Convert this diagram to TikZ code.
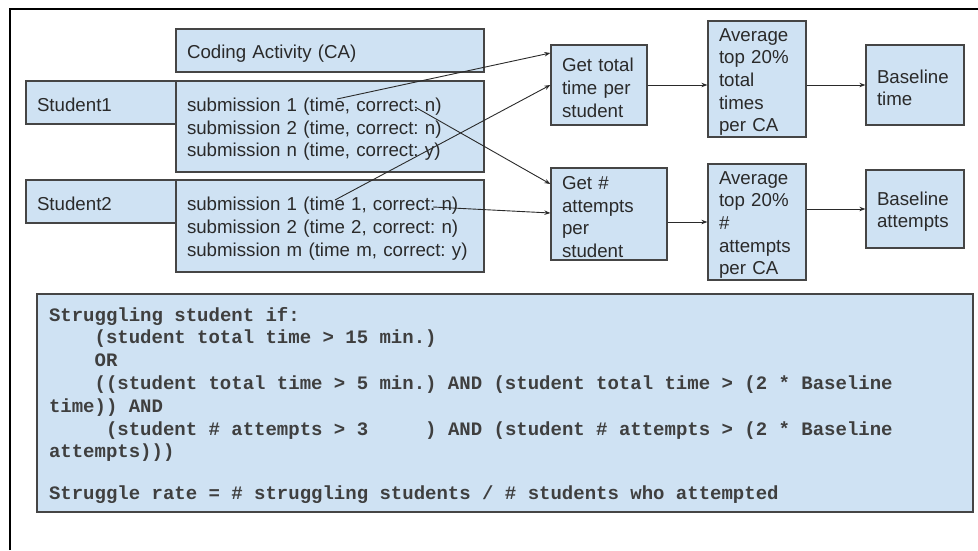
\documentclass[tikz,border=0pt]{standalone}
\usepackage{fontspec}
\setmainfont{Liberation Sans}
\setmonofont{Liberation Mono}
\usetikzlibrary{arrows.meta}
\definecolor{boxfill}{HTML}{CFE2F3}
\definecolor{boxline}{HTML}{454545}
\definecolor{ink}{HTML}{2A2A2A}
\frenchspacing
\newcommand\monogaps{\spaceskip=0.6em\relax}

\begin{document}
\begin{tikzpicture}[x=1pt, y=-1pt,
    box/.style={draw=boxline, fill=boxfill, line width=1.3pt, text=ink, inner sep=0pt,
      align=left, font=\fontsize{18.7}{22.7}\selectfont, execute at begin node={\rule{0pt}{19pt}}},
    link/.style={draw=ink, line width=0.9pt, -{Stealth[length=6pt,width=4.5pt]}}]
  \useasboundingbox (0,0) rectangle (978,550);
  \draw[line width=2.5pt] (10,550) -- (10,9) -- (978,9);

  \node[box, minimum width=308pt, minimum height=43pt, text width=286pt] (ca) at (330,50.5) {Coding Activity (CA)};
  \node[box, minimum width=150pt, minimum height=43pt, text width=128pt] (st1) at (101,102.5) {Student1};
  \node[box, minimum width=308pt, minimum height=91pt, text width=286pt] (sub1) at (330,126.5)
    {submission 1 (time, correct: n)\\submission 2 (time, correct: n)\\submission n (time, correct: y)};
  \node[box, minimum width=150pt, minimum height=43pt, text width=128pt] (st2) at (101,201.5) {Student2};
  \node[box, minimum width=308pt, minimum height=92pt, text width=286pt] (sub2) at (330,226)
    {submission 1 (time 1, correct: n)\\submission 2 (time 2, correct: n)\\submission m (time m, correct: y)};

  \node[box, minimum width=96pt, minimum height=80pt, text width=74pt] (tot) at (599,85) {Get total\\time per\\student};
  \node[box, minimum width=98pt, minimum height=116pt, text width=76pt] (avgt) at (757,79) {Average\\top 20\%\\total\\times\\per CA};
  \node[box, minimum width=98pt, minimum height=80pt, text width=76pt] (bt) at (915,85) {Baseline\\time};
  \node[box, minimum width=116pt, minimum height=92pt, text width=94pt] (att) at (609,214) {Get \#\\attempts\\per\\student};
  \node[box, minimum width=98pt, minimum height=116pt, text width=76pt] (avga) at (757,222) {Average\\top 20\%\\\#\\attempts\\per CA};
  \node[box, minimum width=98pt, minimum height=78pt, text width=76pt] (ba) at (915,209) {Baseline\\attempts};

  \coordinate (t1) at (337,99);
  \coordinate (c1) at (415,107);
  \coordinate (t2) at (335,200);
  \coordinate (c2) at (433,207);
  \draw[link] (t1) -- ([yshift=32pt]tot.west);
  \draw[link] (t2) -- (tot.west);
  \draw[link] (c1) -- ([yshift=30pt]att.west);
  \draw[link] (c2) -- ([yshift=1pt]att.west);
  \draw[link] (tot.east) -- (tot.east -| avgt.west);
  \draw[link] (bt.west -| avgt.east) -- (bt.west);
  \draw[link] (avga.west -| att.east) -- (avga.west);
  \draw[link] (ba.west -| avga.east) -- (ba.west);

  \node[box, minimum width=936pt, minimum height=218pt, text width=912pt, text=ink!90,
    font=\ttfamily\bfseries\fontsize{19}{22.8}\selectfont] (rule) at (505,403)
    {\monogaps Struggling student if:\\
     \hspace*{2.4em}(student total time > 15 min.)\\
     \hspace*{2.4em}OR\\
     \hspace*{2.4em}((student total time > 5 min.) AND (student total time > (2 * Baseline\\
     time)) AND\\
     \hspace*{3em}(student \# attempts > 3\hspace*{3em}) AND (student \# attempts > (2 * Baseline\\
     attempts)))\\[19pt]
     Struggle rate = \# struggling students / \# students who attempted};
\end{tikzpicture}
\end{document}
